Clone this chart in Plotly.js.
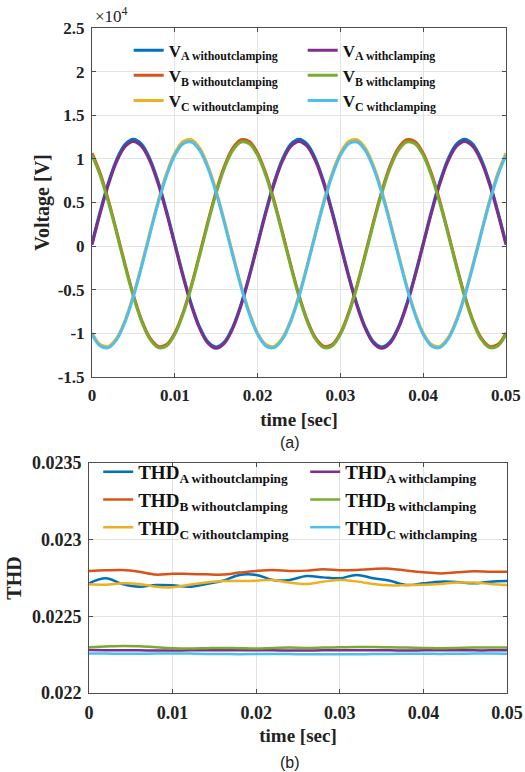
<!DOCTYPE html>
<html>
<head>
<meta charset="utf-8">
<script src="https://cdn.plot.ly/plotly-3.0.1.min.js"></script>
<style>html,body{margin:0;padding:0;background:#fff;}#chart{width:525px;height:772px;}</style>
</head>
<body>
<div id="chart"></div>
<script>
// ---- (a) phase voltages, t = 0 ... 0.05 s every 1 ms ----
const tV = [0,0.001,0.002,0.003,0.004,0.005,0.006,0.007,0.008,0.009,0.010,0.011,0.012,0.013,0.014,0.015,0.016,0.017,0.018,0.019,
            0.020,0.021,0.022,0.023,0.024,0.025,0.026,0.027,0.028,0.029,0.030,0.031,0.032,0.033,0.034,0.035,0.036,0.037,0.038,0.039,
            0.040,0.041,0.042,0.043,0.044,0.045,0.046,0.047,0.048,0.049,0.050];
const vA_without = [350,4027,7345,9977,11668,12250,11668,9977,7345,4027,350,-3327,-6645,-9277,-10968,-11550,-10968,-9277,-6645,-3327,
                    350,4027,7345,9977,11668,12250,11668,9977,7345,4027,350,-3327,-6645,-9277,-10968,-11550,-10968,-9277,-6645,-3327,
                    350,4027,7345,9977,11668,12250,11668,9977,7345,4027,350];
const vB_without = [10655,8312,5190,1594,-2124,-5600,-8493,-10521,-11485,-11289,-9955,-7612,-4490,-894,2824,6300,9193,11221,12185,11989,
                    10655,8312,5190,1594,-2124,-5600,-8493,-10521,-11485,-11289,-9955,-7612,-4490,-894,2824,6300,9193,11221,12185,11989,
                    10655,8312,5190,1594,-2124,-5600,-8493,-10521,-11485,-11289,-9955];
const vC_without = [-9955,-11289,-11485,-10521,-8493,-5600,-2124,1594,5190,8312,10655,11989,12185,11221,9193,6300,2824,-894,-4490,-7612,
                    -9955,-11289,-11485,-10521,-8493,-5600,-2124,1594,5190,8312,10655,11989,12185,11221,9193,6300,2824,-894,-4490,-7612,
                    -9955,-11289,-11485,-10521,-8493,-5600,-2124,1594,5190,8312,10655];
const vA_with = [150,3812,7115,9737,11421,12000,11421,9737,7115,3812,150,-3512,-6815,-9437,-11121,-11700,-11121,-9437,-6815,-3512,
                 150,3812,7115,9737,11421,12000,11421,9737,7115,3812,150,-3512,-6815,-9437,-11121,-11700,-11121,-9437,-6815,-3512,
                 150,3812,7115,9737,11421,12000,11421,9737,7115,3812,150];
const vB_with = [10412,8079,4969,1388,-2314,-5775,-8656,-10675,-11635,-11440,-10112,-7779,-4669,-1088,2614,6075,8956,10975,11935,11740,
                 10412,8079,4969,1388,-2314,-5775,-8656,-10675,-11635,-11440,-10112,-7779,-4669,-1088,2614,6075,8956,10975,11935,11740,
                 10412,8079,4969,1388,-2314,-5775,-8656,-10675,-11635,-11440,-10112];
const vC_with = [-10112,-11440,-11635,-10675,-8656,-5775,-2314,1388,4969,8079,10412,11740,11935,10975,8956,6075,2614,-1088,-4669,-7779,
                 -10112,-11440,-11635,-10675,-8656,-5775,-2314,1388,4969,8079,10412,11740,11935,10975,8956,6075,2614,-1088,-4669,-7779,
                 -10112,-11440,-11635,-10675,-8656,-5775,-2314,1388,4969,8079,10412];
const vTickVals = [-15000,-10000,-5000,0,5000,10000,15000,20000,25000];
const vTickText = ['-1.5','-1','-0.5','0','0.5','1','1.5','2','2.5'];

// ---- (b) THD, t = 0 ... 0.05 s every 2 ms ----
const tT = [0,0.002,0.004,0.006,0.008,0.010,0.012,0.014,0.016,0.018,0.020,0.022,0.024,0.026,0.028,0.030,0.032,0.034,0.036,0.038,0.040,0.042,0.044,0.046,0.048,0.050];
const thdA_without = [0.022715,0.022748,0.022711,0.022693,0.022704,0.022702,0.022693,0.022711,0.022732,0.022770,0.022770,0.022737,0.022737,0.022763,0.022754,0.022748,0.022770,0.022748,0.022732,0.022704,0.022715,0.022726,0.022724,0.022715,0.022726,0.022730];
const thdB_without = [0.022796,0.022800,0.022802,0.022791,0.022772,0.022778,0.022776,0.022774,0.022772,0.022785,0.022796,0.022802,0.022796,0.022798,0.022807,0.022800,0.022802,0.022809,0.022811,0.022798,0.022787,0.022780,0.022787,0.022794,0.022791,0.022791];
const thdC_without = [0.022709,0.022706,0.022715,0.022711,0.022693,0.022689,0.022706,0.022720,0.022730,0.022730,0.022732,0.022737,0.022720,0.022711,0.022726,0.022737,0.022728,0.022711,0.022702,0.022704,0.022706,0.022711,0.022720,0.022720,0.022711,0.022704];
const thdA_with = [0.022280,0.022279,0.022278,0.022278,0.022277,0.022277,0.022278,0.022278,0.022279,0.022279,0.022278,0.022278,0.022277,0.022277,0.022278,0.022279,0.022279,0.022278,0.022278,0.022277,0.022278,0.022279,0.022279,0.022278,0.022278,0.022279];
const thdB_with = [0.022298,0.022303,0.022307,0.022305,0.022298,0.022292,0.022290,0.022292,0.022294,0.022292,0.022290,0.022294,0.022296,0.022294,0.022296,0.022298,0.022300,0.022300,0.022298,0.022296,0.022294,0.022292,0.022294,0.022296,0.022296,0.022296];
const thdC_with = [0.022258,0.022257,0.022256,0.022256,0.022257,0.022258,0.022257,0.022255,0.022254,0.022253,0.022254,0.022255,0.022254,0.022253,0.022253,0.022252,0.022253,0.022254,0.022255,0.022256,0.022256,0.022255,0.022256,0.022257,0.022257,0.022256];
const thdTickVals = [0.022,0.0225,0.023,0.0235];
const thdTickText = ['0.022','0.0225','0.023','0.0235'];
const xTickVals = [0,0.01,0.02,0.03,0.04,0.05];
const xTickText = ['0','0.01','0.02','0.03','0.04','0.05'];

const C = {blue:'#0072BD', orange:'#D95319', yellow:'#EDB120', purple:'#7E2F8E', green:'#77AC30', cyan:'#4DBEEE'};

function tr(x, y, name, color, rank, xa, ya, leg, w) {
  return {x:x, y:y, name:name, type:'scatter', mode:'lines', xaxis:xa, yaxis:ya, legend:leg,
          legendrank:rank, line:{color:color, width:w, shape:'spline', smoothing:1}};
}

const data = [
  tr(tV, vA_without, 'V<sub>A withoutclamping</sub>', C.blue, 1, 'x', 'y', 'legend', 3),
  tr(tV, vB_without, 'V<sub>B withoutclamping</sub>', C.orange, 3, 'x', 'y', 'legend', 3),
  tr(tV, vC_without, 'V<sub>C withoutclamping</sub>', C.yellow, 5, 'x', 'y', 'legend', 3),
  tr(tV, vA_with, 'V<sub>A withclamping</sub>', C.purple, 2, 'x', 'y', 'legend', 3),
  tr(tV, vB_with, 'V<sub>B withclamping</sub>', C.green, 4, 'x', 'y', 'legend', 3),
  tr(tV, vC_with, 'V<sub>C withclamping</sub>', C.cyan, 6, 'x', 'y', 'legend', 3),
  tr(tT, thdA_without, 'THD<sub>A withoutclamping</sub>', C.blue, 1, 'x2', 'y2', 'legend2', 2.5),
  tr(tT, thdB_without, 'THD<sub>B withoutclamping</sub>', C.orange, 3, 'x2', 'y2', 'legend2', 2.5),
  tr(tT, thdC_without, 'THD<sub>C withoutclamping</sub>', C.yellow, 5, 'x2', 'y2', 'legend2', 2.5),
  tr(tT, thdA_with, 'THD<sub>A withclamping</sub>', C.purple, 2, 'x2', 'y2', 'legend2', 2.5),
  tr(tT, thdB_with, 'THD<sub>B withclamping</sub>', C.green, 4, 'x2', 'y2', 'legend2', 2.5),
  tr(tT, thdC_with, 'THD<sub>C withclamping</sub>', C.cyan, 6, 'x2', 'y2', 'legend2', 2.5)
];

const serif = 'Liberation Serif';
const axCommon = {
  showline:true, mirror:'ticks', linecolor:'#4d4d4d', linewidth:1,
  ticks:'inside', ticklen:4, tickcolor:'#4d4d4d',
  showgrid:true, gridcolor:'#e3e3e3', gridwidth:1, zeroline:false,
  tickfont:{family:serif, size:17, weight:'bold', color:'#222'}
};

const layout = {
  width:525, height:772,
  margin:{l:89, r:18, t:28, b:79},
  paper_bgcolor:'#fff', plot_bgcolor:'#fff',
  showlegend:true,
  xaxis: Object.assign({}, axCommon, {domain:[0.0072,0.9976], anchor:'y', range:[0,0.05],
          tickmode:'array', tickvals:xTickVals, ticktext:xTickText, ticklabelstandoff:3,
          title:{text:'time [sec]', font:{family:serif, size:19, weight:'bold', color:'#222'}, standoff:8}}),
  yaxis: Object.assign({}, axCommon, {domain:[0.4752,1], anchor:'x', range:[-15000,25000],
          tickmode:'array', tickvals:vTickVals, ticktext:vTickText, ticklabelstandoff:3,
          title:{text:'Voltage [V]', font:{family:serif, size:20, weight:'bold', color:'#222'}, standoff:2}}),
  xaxis2: Object.assign({}, axCommon, {domain:[0,1], anchor:'y2', range:[0,0.05],
          tickmode:'array', tickvals:xTickVals, ticktext:xTickText, ticklabelstandoff:3,
          tickfont:{family:serif, size:18, weight:'bold', color:'#222'},
          title:{text:'time [sec]', font:{family:serif, size:19, weight:'bold', color:'#222'}, standoff:7}}),
  yaxis2: Object.assign({}, axCommon, {domain:[0,0.3459], anchor:'x2', range:[0.022,0.0235],
          tickmode:'array', tickvals:thdTickVals, ticktext:thdTickText, ticklabelstandoff:3,
          tickfont:{family:serif, size:18, weight:'bold', color:'#222'},
          title:{text:'THD', font:{family:serif, size:20, weight:'bold', color:'#222'}, standoff:4}}),
  legend: {orientation:'h', x:0.095, y:0.993, xanchor:'left', yanchor:'top',
           entrywidth:129, entrywidthmode:'pixels', itemwidth:30, bgcolor:'rgba(0,0,0,0)',
           font:{family:serif, size:17, weight:'bold', color:'#111'}, traceorder:'normal'},
  legend2: {orientation:'h', x:0.022, y:0.361, xanchor:'left', yanchor:'top',
           entrywidth:162, entrywidthmode:'pixels', itemwidth:30, bgcolor:'rgba(0,0,0,0)',
           font:{family:serif, size:19, weight:'bold', color:'#111'}, traceorder:'normal'},
  annotations: [
    {text:'×10<sup>4</sup>', xref:'paper', yref:'paper', x:0.0096, y:1.0195, xanchor:'left', yanchor:'middle',
     showarrow:false, font:{family:serif, size:17, color:'#222'}},
    {text:'(a)', xref:'paper', yref:'paper', x:0.481, y:0.376, xanchor:'center', yanchor:'middle',
     showarrow:false, font:{family:'Liberation Sans', size:16, color:'#222'}},
    {text:'(b)', xref:'paper', yref:'paper', x:0.481, y:-0.104, xanchor:'center', yanchor:'middle',
     showarrow:false, font:{family:'Liberation Sans', size:16, color:'#222'}}
  ]
};

Plotly.newPlot('chart', data, layout, {displayModeBar:false, staticPlot:true});
</script>
</body>
</html>
